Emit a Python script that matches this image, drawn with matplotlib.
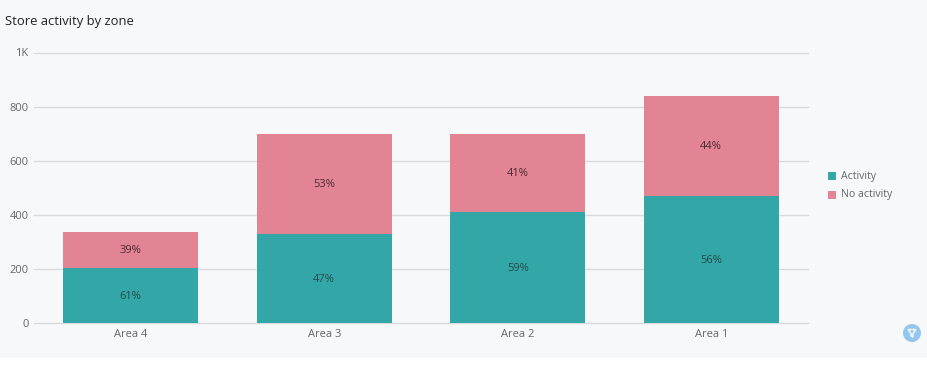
import matplotlib
matplotlib.use("Agg")
import matplotlib.pyplot as plt
from matplotlib.patches import Rectangle, Circle, Polygon

plt.rcParams["font.family"] = ["Open Sans", "DejaVu Sans"]

# ------------------------------
# Data
# ------------------------------
areas = ["Area 4", "Area 3", "Area 2", "Area 1"]
activity = [205, 330, 412, 470]
no_activity = [132, 370, 288, 370]
activity_pct = ["61%", "47%", "59%", "56%"]
no_activity_pct = ["39%", "53%", "41%", "44%"]
y_ticks = [0, 200, 400, 600, 800, 1000]
y_labels = ["0", "200", "400", "600", "800", "1K"]

W, H = 928, 369
BG = "#f7f8fa"
TEAL = "#33a7a7"
PINK = "#e28493"

fig = plt.figure(figsize=(W / 100, H / 100), dpi=100, facecolor="white")

# page background stops above the bottom edge
fig.add_artist(Rectangle((0, (H - 357.5) / H), 1, 357.5 / H, transform=fig.transFigure,
                         facecolor=BG, edgecolor="none", zorder=-5))

ax = fig.add_axes([34 / W, (H - 323) / H, 774 / W, 270.5 / H])
ax.patch.set_alpha(0)

x = range(len(areas))
ax.bar(x, activity, width=0.7, color=TEAL, zorder=3, label="Activity")
ax.bar(x, no_activity, width=0.7, bottom=activity, color=PINK, zorder=3, label="No activity")

for i in x:
    ax.annotate(activity_pct[i], (i, activity[i] / 2), xytext=(0, -0.6), textcoords="offset points",
                ha="center", va="center", fontsize=8, color="#24494a", zorder=4)
    ax.annotate(no_activity_pct[i], (i, activity[i] + no_activity[i] / 2), xytext=(0, -0.6),
                textcoords="offset points", ha="center", va="center", fontsize=8,
                color="#4a2a30", zorder=4)

ax.set_xlim(-0.5, 3.5)
ax.set_ylim(0, 1000)
ax.set_xticks(list(x))
ax.set_xticklabels(areas)
ax.set_yticks(y_ticks)
ax.set_yticklabels(y_labels)
ax.tick_params(axis="both", length=0, labelsize=8, labelcolor="#63676b")
ax.tick_params(axis="x", pad=4.5)
ax.tick_params(axis="y", pad=4)
ax.grid(axis="y", color="#d9dadc", linewidth=1, zorder=0)
for line in ax.get_ygridlines():
    line.set_clip_on(False)
ax.set_axisbelow(True)
for s in ax.spines.values():
    s.set_visible(False)

fig.text(5 / W, (H - 21) / H, "Store activity by zone", fontsize=9.35, color="#222222",
         ha="left", va="center")

# legend built by hand to sit at the exact spot
for y_px, col, name in [(176, TEAL, "Activity"), (194.5, PINK, "No activity")]:
    fig.add_artist(Rectangle((828.5 / W, (H - y_px - 4) / H), 8 / W, 8 / H,
                             transform=fig.transFigure, facecolor=col, edgecolor="none"))
    fig.text(841 / W, (H - y_px) / H, name, fontsize=7.6, color="#63676b", ha="left", va="center")

# filter button in the corner
fig.add_artist(Circle((912, H - 333), 9, transform=None, facecolor="#93c6ee", edgecolor="none"))
fig.add_artist(Polygon([(908, H - 329.5), (916, H - 329.5), (913, H - 333.5), (913, H - 337),
                        (911, H - 336), (911, H - 333.5)],
                       closed=True, transform=None, facecolor="none", edgecolor="white", linewidth=1))

fig.savefig("out.png", dpi=100, facecolor=fig.get_facecolor())
